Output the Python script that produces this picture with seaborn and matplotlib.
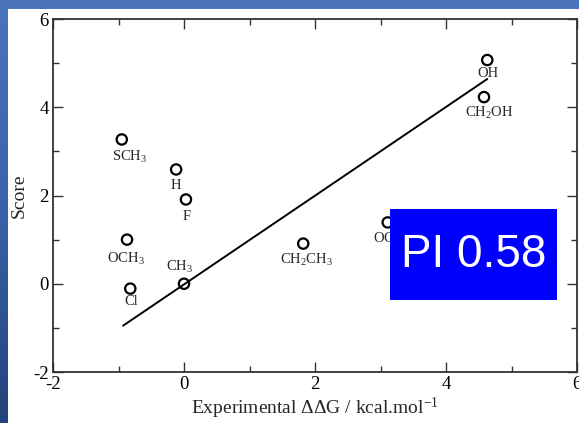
import numpy as np
import pandas as pd
import matplotlib
matplotlib.use("Agg")
import matplotlib.pyplot as plt
from matplotlib.patches import Rectangle
from matplotlib.colors import LinearSegmentedColormap
import seaborn as sns

# ---- data ----
labels = ["OH", "CH$_2$OH", "SCH$_3$", "H", "F", "OCH$_3$", "CH$_3$", "Cl", "CH$_2$CH$_3$", "OCF$_3$"]
exp_ddg = [4.63, 4.58, -0.95, -0.12, 0.03, -0.87, 0.00, -0.82, 1.82, 3.11]
score = [5.07, 4.23, 3.27, 2.59, 1.91, 1.00, 0.00, -0.11, 0.91, 1.39]
fit_x = [-0.93, 4.63]
fit_y = [-0.95, 4.64]
x_ticks = [-2, 0, 2, 4, 6]
y_ticks = [-2, 0, 2, 4, 6]
pi_text = "PI 0.58"

# label offsets in pixels (dx, dy)
label_offsets = [(1, -7), (5, -8), (8, -9), (0, -10), (1, -11), (-1, -11), (-4, 9), (1, -6), (3, -8), (3, -8)]
label_va = ["top"] * 6 + ["bottom"] + ["top"] * 3

df = pd.DataFrame({"x": exp_ddg, "y": score, "label": labels})
fit_df = pd.DataFrame({"x": fit_x, "y": fit_y})

sns.set_style("ticks")
plt.rcParams["font.family"] = ["Liberation Serif", "DejaVu Serif"]
plt.rcParams["mathtext.fontset"] = "custom"
plt.rcParams["mathtext.rm"] = "Liberation Serif"
plt.rcParams["mathtext.it"] = "Liberation Serif:italic"
plt.rcParams["mathtext.bf"] = "Liberation Serif:bold"

W, H = 579, 423
fig = plt.figure(figsize=(W / 100, H / 100), dpi=100)

# blue gradient background
bg = fig.add_axes([0, 0, 1, 1], zorder=-10)
cmap = LinearSegmentedColormap.from_list("bg", ["#4a74bc", "#3a62a8", "#22437a"])
grad = np.linspace(0, 1, 256).reshape(-1, 1)
bg.imshow(grad, aspect="auto", cmap=cmap, extent=[0, 1, 0, 1], origin="upper")
bg.set_axis_off()
bg.add_patch(Rectangle((8 / W, 0), 1 - 8 / W, 1 - 9 / H, transform=bg.transAxes,
                       facecolor="white", edgecolor="none"))

ax = fig.add_axes([53 / W, (H - 372) / H, (577 - 53) / W, (372 - 19) / H])
ax.set_facecolor("white")

sns.lineplot(data=fit_df, x="x", y="y", ax=ax, color="black", linewidth=1.4, zorder=3)
sns.scatterplot(data=df, x="x", y="y", ax=ax, marker="o", s=55, facecolor="none",
                edgecolor="black", linewidth=1.6, zorder=4)

for (lx, ly, lab), (dx, dy), va in zip(zip(exp_ddg, score, labels), label_offsets, label_va):
    ax.annotate(lab, (lx, ly), xytext=(dx, dy), textcoords="offset pixels",
                ha="center", va=va, fontsize=10.5, zorder=2)

ax.set_xlim(-2, 6)
ax.set_ylim(-2, 6)
ax.set_xticks(x_ticks)
ax.set_yticks(y_ticks)
ax.set_xticklabels([str(t) for t in x_ticks])
ax.set_yticklabels([str(t) for t in y_ticks])
ax.set_xticks(np.arange(-2, 7, 1), minor=True)
ax.set_yticks(np.arange(-2, 7, 1), minor=True)
ax.tick_params(which="both", direction="in", top=True, right=True, colors="#333333",
               labelcolor="black", width=1.0)
ax.tick_params(which="major", length=7, labelsize=13.5, pad=3)
ax.tick_params(which="minor", length=4)
for sp in ax.spines.values():
    sp.set_visible(True)
    sp.set_linewidth(1.3)
    sp.set_color("#333333")

ax.set_xlabel("Experimental ΔΔG / kcal.mol$^{-1}$", fontsize=14, labelpad=2)
ax.set_ylabel("Score", fontsize=14, labelpad=4)

# PI box
ax.add_patch(Rectangle((3.145, -0.36), 5.69 - 3.145, 1.70 + 0.36, facecolor="#0000ff",
                       edgecolor="none", zorder=6))
ax.text(4.42, 0.66, pi_text, ha="center", va="center", color="white", fontsize=33,
        family="Liberation Sans", zorder=7)

fig.savefig("out.png", dpi=100)
